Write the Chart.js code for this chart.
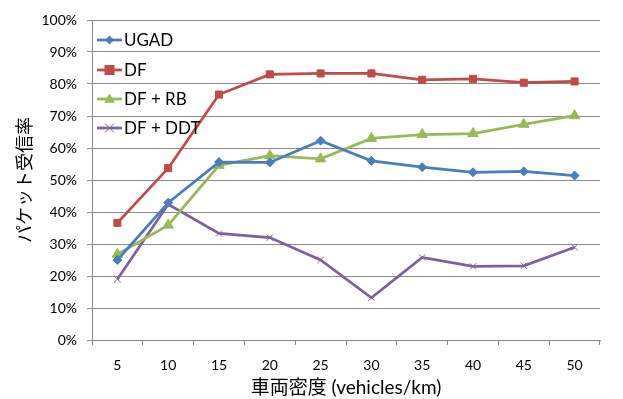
<!DOCTYPE html>
<html>
<head>
<meta charset="utf-8">
<script src="https://cdn.jsdelivr.net/npm/chart.js@4/dist/chart.umd.min.js"></script>
<style>
  html, body { margin: 0; padding: 0; background: #fff; }
  #wrap { width: 623px; height: 399px; }
</style>
</head>
<body>
<div id="wrap"><canvas id="c" width="623" height="399"></canvas></div>
<script>
// Vehicle density categories (vehicles/km)
const densities = ['5', '10', '15', '20', '25', '30', '35', '40', '45', '50'];

// Packet reception rate (%) per scheme
const ugad   = [25.0, 42.9, 55.6, 55.5, 62.3, 56.0, 54.0, 52.4, 52.7, 51.4];
const df     = [36.6, 53.7, 76.7, 83.0, 83.3, 83.3, 81.3, 81.6, 80.4, 80.8];
const dfRb   = [26.8, 35.9, 54.6, 57.6, 56.6, 63.0, 64.2, 64.5, 67.4, 70.1];
const dfDdt  = [19.0, 42.4, 33.3, 32.0, 25.0, 13.2, 25.8, 23.0, 23.2, 29.0];

const seriesNames = ['UGAD', 'DF', 'DF + RB', 'DF + DDT'];
const yTicks = [0, 10, 20, 30, 40, 50, 60, 70, 80, 90, 100];

const FONT = "Lato, 'Noto Sans CJK JP', 'Noto Sans', sans-serif";

function drawMarker(ctx, style, x, y, r, color, bw) {
  ctx.save();
  ctx.fillStyle = color;
  ctx.strokeStyle = color;
  ctx.lineWidth = bw;
  ctx.beginPath();
  if (style === 'rectRot') {
    ctx.moveTo(x, y - r); ctx.lineTo(x + r, y); ctx.lineTo(x, y + r); ctx.lineTo(x - r, y);
    ctx.closePath(); ctx.fill();
  } else if (style === 'rect') {
    ctx.rect(x - r, y - r, 2 * r, 2 * r); ctx.fill();
  } else if (style === 'triangle') {
    ctx.moveTo(x, y - r); ctx.lineTo(x + r, y + r * 0.7); ctx.lineTo(x - r, y + r * 0.7);
    ctx.closePath(); ctx.fill();
  } else if (style === 'crossRot') {
    ctx.moveTo(x - r, y - r); ctx.lineTo(x + r, y + r);
    ctx.moveTo(x + r, y - r); ctx.lineTo(x - r, y + r);
    ctx.stroke();
  }
  ctx.restore();
}

// Legend drawn inside the plot area, top-left
const insideLegend = {
  id: 'insideLegend',
  afterDraw(chart) {
    const ctx = chart.ctx;
    const x0 = 97, x1 = 122, tx = 124;
    const rows = [40, 70, 99, 128];
    chart.data.datasets.forEach((ds, i) => {
      const y = rows[i];
      ctx.save();
      ctx.strokeStyle = ds.borderColor;
      ctx.lineWidth = ds.borderWidth;
      ctx.beginPath(); ctx.moveTo(x0, y); ctx.lineTo(x1, y); ctx.stroke();
      ctx.restore();
      drawMarker(ctx, ds.pointStyle, (x0 + x1) / 2, y, ds.legendR, ds.borderColor, ds.pointBorderWidth);
      ctx.save();
      ctx.fillStyle = '#000';
      ctx.font = '17px ' + FONT;
      ctx.textBaseline = 'middle';
      ctx.textAlign = 'left';
      ctx.fillText(ds.label, tx, y + 1);
      ctx.restore();
    });
  }
};

function mkSeries(label, data, color, style, radius, bw, legendR) {
  return {
    label, data,
    borderColor: color,
    backgroundColor: color,
    borderWidth: 2.75,
    pointStyle: style,
    pointRadius: radius,
    pointHoverRadius: radius,
    pointBorderWidth: bw,
    pointBackgroundColor: color,
    pointBorderColor: color,
    tension: 0,
    legendR
  };
}

new Chart(document.getElementById('c'), {
  type: 'line',
  data: {
    labels: densities,
    datasets: [
      mkSeries(seriesNames[0], ugad,  '#4A7EBB', 'rectRot', 4.5, 1, 4.5),
      mkSeries(seriesNames[1], df,    '#BE4B48', 'rect', 5, 1, 5),
      mkSeries(seriesNames[2], dfRb,  '#98B954', 'triangle', 6, 1, 5.5),
      mkSeries(seriesNames[3], dfDdt, '#7D60A0', 'crossRot', 4.5, 1, 4.5)
    ]
  },
  options: {
    responsive: false,
    animation: false,
    devicePixelRatio: 1,
    layout: { padding: { left: 0, right: 23, top: 20, bottom: 0 } },
    plugins: {
      legend: { display: false },
      tooltip: { enabled: false }
    },
    scales: {
      x: {
        type: 'category',
        offset: true,
        grid: {
          offset: true,
          drawOnChartArea: false,
          drawTicks: true,
          tickLength: 5,
          color: '#868686'
        },
        border: { color: '#868686', width: 1 },
        ticks: {
          color: '#000',
          font: { family: FONT, size: 14 },
          padding: 12,
          maxRotation: 0
        },
        title: {
          display: true,
          text: '車両密度 (vehicles/km)',
          color: '#000',
          font: { family: FONT, size: 19, weight: 'normal' },
          padding: { top: 0, bottom: 0 }
        },
        afterFit(s) { s.height = 59; }
      },
      y: {
        min: 0,
        max: 100,
        afterBuildTicks(s) { s.ticks = yTicks.map(v => ({ value: v })); },
        grid: {
          color: '#8A8A8A',
          lineWidth: 1,
          drawTicks: true,
          tickLength: 5
        },
        border: { color: '#868686', width: 1 },
        ticks: {
          color: '#000',
          font: { family: FONT, size: 14 },
          padding: 10,
          callback: v => v + '%'
        },
        title: {
          display: true,
          text: 'パケット受信率',
          color: '#000',
          font: { family: FONT, size: 18, weight: 'normal' },
          padding: { top: 14, bottom: 0 }
        },
        afterFit(s) { s.width = 92; }
      }
    }
  },
  plugins: [insideLegend]
});
</script>
</body>
</html>
